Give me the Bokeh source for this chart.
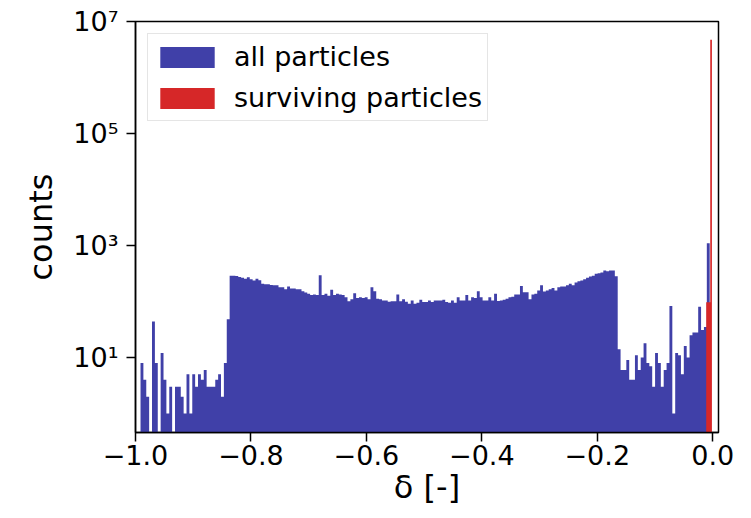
import numpy as np
from bokeh.plotting import figure
from bokeh.models import Range1d, FixedTicker, CustomJSTickFormatter, ColumnDataSource
from bokeh.embed import file_html
from bokeh.resources import INLINE

# ---------------- data ----------------
# histogram of all particles: counts per bin, left to right
left_tail = [8, 4, 2, 0, 44, 8, 0, 12, 4, 1, 3, 0, 3, 3, 2, 1, 5, 1, 5, 3,
             5, 4, 6, 3, 3, 3, 4, 5, 2, 8, 48]
plateau_a = [288, 288, 285, 275, 265, 255, 272, 250, 237, 255,
             240, 207, 203, 203, 198, 195, 195, 180, 180, 166,
             185, 170, 170, 166, 166, 153, 145, 137, 130, 133,
             130, 295, 130, 137, 127, 162, 130, 137, 133, 130,
             119, 101, 110, 140, 116, 119, 116, 119, 110, 180,
             153, 112, 110, 104, 104, 99, 101, 101, 133, 101,
             110, 99, 91]
plateau_b = [104, 91, 95, 107, 98, 98, 104, 98, 104, 104,
             104, 107, 98, 95, 104, 95, 119, 104, 104, 130,
             104, 119, 116, 153, 119, 104, 104, 119, 104, 137,
             102, 104, 107, 112, 119, 122, 133, 133, 190, 147,
             147, 110, 133, 137, 157, 196, 151, 157, 165, 175,
             157, 180, 185, 185, 196, 207, 196, 218, 231, 237,
             250, 265, 280, 288, 312, 320, 330, 358, 348, 358,
             358, 283]
right_tail = [14, 6, 6, 9, 4, 4, 11, 6, 10, 18, 8, 7, 3, 12, 8, 3, 6, 8, 83, 1,
              12, 11, 5, 16, 10, 25, 28, 28, 81, 31, 35]
peak = [1100]
all_counts = left_tail + plateau_a + plateau_b + right_tail + peak
all_bin_start = -0.9913
all_bin_width = 0.00498

# histogram of surviving particles
surv_edges = [-0.0113, -0.0043, -0.0014]
surv_counts = [97, 4.7e6]

x_ticks = [-1.0, -0.8, -0.6, -0.4, -0.2, 0.0]
x_tick_labels = ["\u22121.0", "\u22120.8", "\u22120.6", "\u22120.4", "\u22120.2", "0.0"]
y_ticks = [1e1, 1e3, 1e5, 1e7]
y_tick_labels = ["10\u00b9", "10\u00b3", "10\u2075", "10\u2077"]

BLUE = "#4040a8"
RED = "#d62728"
FONT = "DejaVu Sans"
FLOOR = 0.01  # bars start below the visible range


def step_outline(edges, counts):
    """Closed stepped outline of a histogram (one polygon, no seams)."""
    xs, ys = [edges[0]], [FLOOR]
    for i, c in enumerate(counts):
        h = c if c > 0 else FLOOR
        xs += [edges[i], edges[i + 1]]
        ys += [h, h]
    xs.append(edges[-1])
    ys.append(FLOOR)
    return xs, ys


all_edges = list(all_bin_start + all_bin_width * np.arange(len(all_counts) + 1))
ax_, ay_ = step_outline(all_edges, all_counts)
sx_, sy_ = step_outline(surv_edges, surv_counts)
src_all = ColumnDataSource(dict(x=ax_, y=ay_))
src_surv = ColumnDataSource(dict(x=sx_, y=sy_))

p = figure(width=745, height=514, y_axis_type="log",
           x_range=Range1d(-1.0, 0.0100), y_range=Range1d(0.458, 1e7),
           output_backend="svg", toolbar_location=None,
           min_border_left=135, min_border_right=27, min_border_top=21,
           min_border_bottom=82)

p.patch(x="x", y="y", source=src_all, fill_color=BLUE, line_color=None,
        legend_label="all particles")
p.patch(x="x", y="y", source=src_surv, fill_color=RED, line_color=None,
        legend_label="surviving particles")

p.grid.visible = False
p.outline_line_color = "black"
p.outline_line_width = 1.5
p.background_fill_color = "white"
p.border_fill_color = "white"

p.xaxis.ticker = FixedTicker(ticks=x_ticks, minor_ticks=[])
p.yaxis.ticker = FixedTicker(ticks=y_ticks, minor_ticks=[])
p.xaxis.formatter = CustomJSTickFormatter(args=dict(tvals=x_ticks, tlabels=x_tick_labels), code="""
let best = 0, d = Infinity;
for (let i = 0; i < tvals.length; i++) { const dd = Math.abs(tvals[i] - tick); if (dd < d) { d = dd; best = i; } }
return tlabels[best];
""")
p.yaxis.formatter = CustomJSTickFormatter(args=dict(tvals=y_ticks, tlabels=y_tick_labels), code="""
let best = 0, d = Infinity;
for (let i = 0; i < tvals.length; i++) { const dd = Math.abs(Math.log10(tvals[i]) - Math.log10(tick)); if (dd < d) { d = dd; best = i; } }
return tlabels[best];
""")

for ax in (p.xaxis, p.yaxis):
    ax.axis_line_color = "black"
    ax.axis_line_width = 1.5
    ax.major_tick_line_color = "black"
    ax.major_tick_line_width = 1.5
    ax.major_tick_out = 9
    ax.major_tick_in = 0
    ax.minor_tick_line_color = None
    ax.major_label_text_font = FONT
    ax.major_label_text_font_size = "27px"
    ax.major_label_text_color = "black"
    ax.axis_label_text_font = FONT
    ax.axis_label_text_font_size = "32px"
    ax.axis_label_text_font_style = "normal"
    ax.axis_label_text_color = "black"

p.xaxis.axis_label = "\u03b4 [-]"
p.yaxis.axis_label = "counts"
p.xaxis.major_label_standoff = 3
p.xaxis.axis_label_standoff = 0
p.yaxis.major_label_standoff = 8
p.yaxis.axis_label_standoff = 10

lg = p.legend[0]
lg.location = "top_left"
lg.margin = 12
lg.padding = 5
lg.spacing = 6
lg.glyph_width = 68
lg.glyph_height = 26
lg.label_standoff = 13
lg.label_height = 35
lg.label_text_font = FONT
lg.label_text_font_size = "27px"
lg.label_text_color = "black"
lg.border_line_color = "#cccccc"
lg.border_line_width = 1.5
lg.background_fill_alpha = 0.8

open("out.html", "w").write(file_html(p, INLINE))
